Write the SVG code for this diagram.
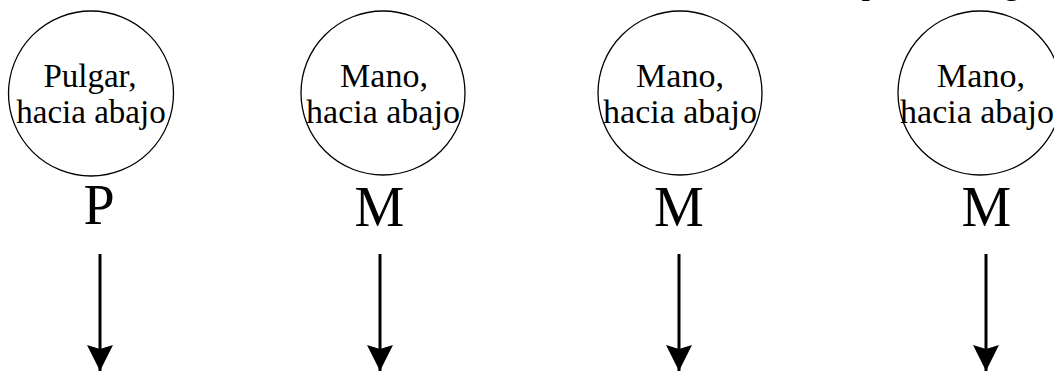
<svg xmlns="http://www.w3.org/2000/svg" width="1054" height="372" viewBox="0 0 1054 372">
<style>
.node circle{fill:#fff;stroke:#000;stroke-width:1.3}
.lbl{font-family:"Liberation Serif","Times New Roman",serif;font-size:34px;text-anchor:middle;fill:#000}
.big{font-family:"Liberation Serif","Times New Roman",serif;font-size:56px;text-anchor:middle;fill:#000}
.conn line{stroke:#000;stroke-width:3}
</style>
<defs>
<marker id="ah" markerUnits="userSpaceOnUse" markerWidth="27" markerHeight="26" viewBox="0 0 27 26" refX="26" refY="13" orient="auto">
<path d="M0,0 L26,13 L0,26 L4,13 Z" fill="#000"/>
</marker>
</defs>
<rect width="1054" height="372" fill="#fff"/>
<g id="top-fragment">
<text class="lbl" x="870" y="-6">p</text>
<text class="lbl" x="1012" y="-6">g</text>
</g>
<g id="node1" class="node">
<circle cx="91" cy="93.5" r="82.5"/>
<text class="lbl" x="90" y="87" style="font-size:33px">Pulgar,</text>
<text class="lbl" x="91" y="123" style="font-size:33px">hacia abajo</text>
<text class="big" x="99" y="224">P</text>
</g>
<g id="node2" class="node">
<circle cx="383" cy="93" r="82"/>
<text class="lbl" x="384" y="87">Mano,</text>
<text class="lbl" x="383" y="123">hacia abajo</text>
<text class="big" x="379.5" y="226">M</text>
</g>
<g id="node3" class="node">
<circle cx="680" cy="93" r="82"/>
<text class="lbl" x="680" y="87">Mano,</text>
<text class="lbl" x="680" y="123">hacia abajo</text>
<text class="big" x="679" y="226">M</text>
</g>
<g id="node4" class="node">
<circle cx="980" cy="93" r="82"/>
<text class="lbl" x="981" y="87">Mano,</text>
<text class="lbl" x="977" y="123">hacia abajo</text>
<text class="big" x="986.5" y="226">M</text>
</g>
<g id="connectors" class="conn">
<line x1="100" y1="254" x2="100" y2="371" marker-end="url(#ah)"/>
<line x1="380" y1="254" x2="380" y2="371" marker-end="url(#ah)"/>
<line x1="679" y1="254" x2="679" y2="371" marker-end="url(#ah)"/>
<line x1="986" y1="254" x2="986" y2="371" marker-end="url(#ah)"/>
</g>
</svg>
